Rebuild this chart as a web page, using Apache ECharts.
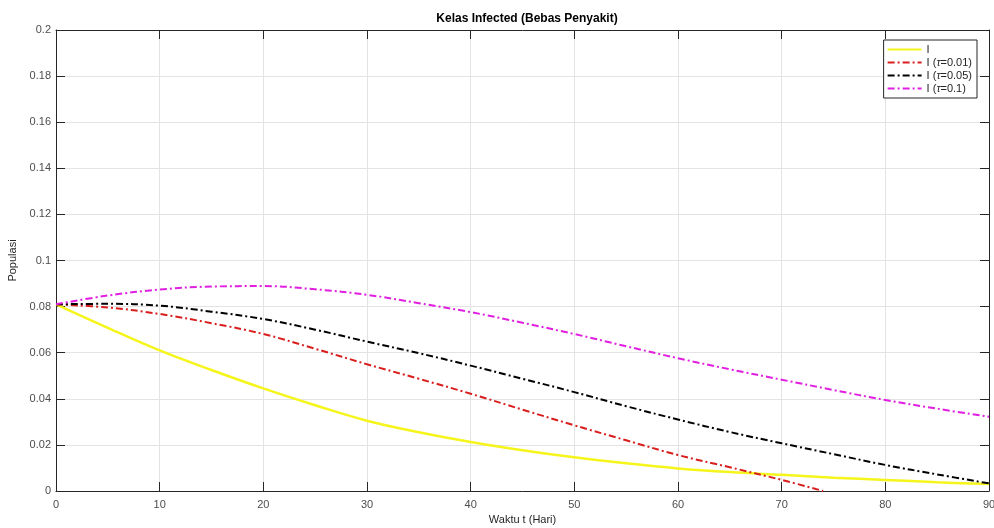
<!DOCTYPE html>
<html>
<head>
<meta charset="utf-8">
<script src="https://cdn.jsdelivr.net/npm/echarts@6/dist/echarts.min.js"></script>
<style>html,body{margin:0;padding:0;background:#fff;overflow:hidden;}#c{width:994px;height:528px;}</style>
</head>
<body>
<div id="c"></div>
<script>
const tGrid = [0,5,10,15,20,25,30,35,40,45,50,55,60,65,70,75,80,85,90];
const tRed = [0,5,10,15,20,25,30,35,40,45,50,55,60,65,70,74];
const yTicks = [0,0.02,0.04,0.06,0.08,0.1,0.12,0.14,0.16,0.18,0.2];
const xTicks = [0,10,20,30,40,50,60,70,80,90];
const seriesNames = ['I','I (τ=0.01)','I (τ=0.05)','I (τ=0.1)'];
const valI    = [0.081,0.0708,0.0610,0.0525,0.0445,0.0372,0.0305,0.0255,0.0213,0.0177,0.0146,0.0120,0.0098,0.0082,0.0070,0.0058,0.0048,0.0038,0.0030];
const valT001 = [0.081,0.0796,0.0768,0.0728,0.0681,0.0617,0.0550,0.0487,0.0422,0.0353,0.0285,0.0220,0.0156,0.0103,0.0048,0.0];
const valT005 = [0.081,0.0812,0.0804,0.0778,0.0746,0.0700,0.0648,0.0598,0.0544,0.0487,0.0429,0.0368,0.0310,0.0256,0.0207,0.0160,0.0113,0.0072,0.0033];
const valT01  = [0.081,0.0848,0.0874,0.0887,0.0889,0.0875,0.0851,0.0815,0.0776,0.0730,0.0681,0.0628,0.0576,0.0528,0.0483,0.0438,0.0395,0.0357,0.0322];

const FONT = '"Liberation Sans", Arial, sans-serif';
const pair = (xs, ys) => xs.map((x, i) => [x, ys[i]]);
const dashDot = [7, 3, 2, 3];

const chart = echarts.init(document.getElementById('c'), null, {renderer: 'canvas'});
const axisLineStyle = {color: '#262626', width: 1};
chart.setOption({
  animation: false,
  backgroundColor: '#ffffff',
  textStyle: {fontFamily: FONT},
  title: {
    text: 'Kelas Infected (Bebas Penyakit)',
    left: 522, top: 8, textAlign: 'center',
    textStyle: {fontFamily: FONT, fontSize: 12, fontWeight: 'bold', color: '#000'}
  },
  grid: {left: 56, right: 5, top: 30, bottom: 37, containLabel: false, outerBoundsMode: 'none'},
  legend: {
    data: seriesNames,
    orient: 'vertical',
    right: 17, top: 40,
    itemWidth: 34, itemHeight: 10, itemGap: 2,
    padding: [4, 5, 4, 3],
    borderColor: '#262626', borderWidth: 1,
    backgroundColor: '#fff',
    itemStyle: {opacity: 0},
    formatter: n => n.replace('τ', '{it|τ}'),
    textStyle: {fontFamily: FONT, fontSize: 11, color: '#262626',
      rich: {it: {fontStyle: 'italic', fontFamily: FONT, fontSize: 11, color: '#262626'}}}
  },
  xAxis: [{
    type: 'value', min: 0, max: 90, interval: 10,
    name: 'Waktu t (Hari)', nameLocation: 'middle', nameGap: 22,
    nameTextStyle: {fontFamily: FONT, fontSize: 11, color: '#262626'},
    axisLine: {show: true, onZero: false, lineStyle: axisLineStyle},
    axisTick: {show: true, inside: true, length: 9, lineStyle: axisLineStyle},
    axisLabel: {fontFamily: FONT, fontSize: 11, color: '#4d4d4d', margin: 8,
      formatter: v => xTicks.includes(v) ? String(v) : ''},
    splitLine: {show: true, lineStyle: {color: '#e3e3e3', width: 1}}
  }, {
    type: 'value', min: 0, max: 90, interval: 10, position: 'top',
    axisLine: {show: true, onZero: false, lineStyle: axisLineStyle},
    axisTick: {show: true, inside: true, length: 9, lineStyle: axisLineStyle},
    axisLabel: {show: false}, splitLine: {show: false}
  }],
  yAxis: [{
    type: 'value', min: 0, max: 0.2, interval: 0.02,
    name: 'Populasi', nameLocation: 'middle', nameGap: 36,
    nameTextStyle: {fontFamily: FONT, fontSize: 11, color: '#262626'},
    axisLine: {show: true, onZero: false, lineStyle: axisLineStyle},
    axisTick: {show: true, inside: true, length: 9, lineStyle: axisLineStyle},
    axisLabel: {fontFamily: FONT, fontSize: 11, color: '#4d4d4d', margin: 5,
      formatter: v => { const m = yTicks.find(t => Math.abs(t - v) < 1e-9); return m === undefined ? '' : String(m); }},
    splitLine: {show: true, lineStyle: {color: '#e3e3e3', width: 1}}
  }, {
    type: 'value', min: 0, max: 0.2, interval: 0.02, position: 'right',
    axisLine: {show: true, onZero: false, lineStyle: axisLineStyle},
    axisTick: {show: true, inside: true, length: 9, lineStyle: axisLineStyle},
    axisLabel: {show: false}, splitLine: {show: false}
  }],
  series: [
    {name: seriesNames[0], type: 'line', smooth: 0.4, symbol: 'none', data: pair(tGrid, valI),
     lineStyle: {color: '#f5f51c', width: 2.5, type: 'solid'}, itemStyle: {color: '#f5f51c'}, z: 2},
    {name: seriesNames[1], type: 'line', smooth: 0.4, symbol: 'none', data: pair(tRed, valT001),
     lineStyle: {color: '#d91e1e', width: 2, type: dashDot}, itemStyle: {color: '#d91e1e'}, z: 3},
    {name: seriesNames[2], type: 'line', smooth: 0.4, symbol: 'none', data: pair(tGrid, valT005),
     lineStyle: {color: '#000000', width: 2, type: dashDot}, itemStyle: {color: '#000000'}, z: 4},
    {name: seriesNames[3], type: 'line', smooth: 0.4, symbol: 'none', data: pair(tGrid, valT01),
     lineStyle: {color: '#e01fe0', width: 2, type: dashDot}, itemStyle: {color: '#e01fe0'}, z: 5}
  ]
});
</script>
</body>
</html>
